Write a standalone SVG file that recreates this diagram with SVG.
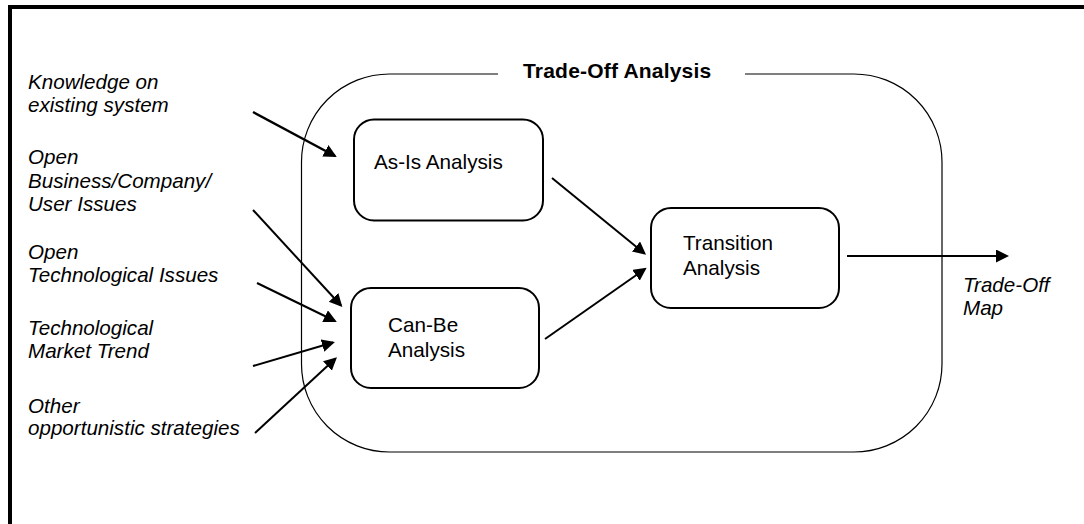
<svg xmlns="http://www.w3.org/2000/svg" width="1084" height="524" viewBox="0 0 1084 524">
  <style>
    .frame { fill: none; stroke: #000; stroke-width: 4; }
    .container { fill: none; stroke: #000; stroke-width: 1.2; }
    .box { fill: #fff; stroke: #000; stroke-width: 2; }
    .label { font-family: "Liberation Sans", Arial, sans-serif; font-size: 20.7px; fill: #000; }
    .input { font-family: "Liberation Sans", Arial, sans-serif; font-size: 20.6px; font-style: italic; fill: #000; }
    .title { font-family: "Liberation Sans", Arial, sans-serif; font-size: 21px; font-weight: bold; letter-spacing: 0.2px; fill: #000; }
    .conn { fill: none; stroke: #000; stroke-width: 2; marker-end: url(#arrow); }
  </style>
  <defs>
    <marker id="arrow" markerUnits="userSpaceOnUse" markerWidth="14" markerHeight="14" refX="11" refY="6.5" orient="auto">
      <path d="M0,0 L13,6.5 L0,13 Z" fill="#000"/>
    </marker>
  </defs>

  <rect width="1084" height="524" fill="#fff"/>

  <!-- page frame: left and top edges only -->
  <path class="frame" d="M10,524 V7 H1084"/>

  <!-- trade-off container with a gap in the top edge for its title -->
  <g id="trade-off-analysis">
    <path class="container" d="M498,74 H389.5 A88,88 0 0 0 301.5,162 V364 A88,88 0 0 0 389.5,452 H854 A88,88 0 0 0 942,364 V162 A88,88 0 0 0 854,74 H745"/>
    <text class="title" x="523" y="78">Trade-Off Analysis</text>
  </g>

  <!-- input labels -->
  <g id="input-knowledge">
    <text class="input" x="28" y="89">Knowledge on</text>
    <text class="input" x="28" y="112">existing system</text>
  </g>
  <g id="input-business">
    <text class="input" x="28" y="164">Open</text>
    <text class="input" x="28" y="188">Business/Company/</text>
    <text class="input" x="28" y="211">User Issues</text>
  </g>
  <g id="input-tech-issues">
    <text class="input" x="28" y="259">Open</text>
    <text class="input" x="28" y="282">Technological Issues</text>
  </g>
  <g id="input-market">
    <text class="input" x="28" y="335">Technological</text>
    <text class="input" x="28" y="358">Market Trend</text>
  </g>
  <g id="input-other">
    <text class="input" x="28" y="413">Other</text>
    <text class="input" x="28" y="435">opportunistic strategies</text>
  </g>

  <!-- process boxes -->
  <g id="as-is">
    <rect class="box" x="354" y="119.5" width="189" height="101" rx="20"/>
    <text class="label" x="374" y="169">As-Is Analysis</text>
  </g>
  <g id="can-be">
    <rect class="box" x="351" y="288" width="188" height="100" rx="20"/>
    <text class="label" x="388" y="332">Can-Be</text>
    <text class="label" x="388" y="357">Analysis</text>
  </g>
  <g id="transition">
    <rect class="box" x="651" y="208" width="188" height="100" rx="20"/>
    <text class="label" x="683" y="250">Transition</text>
    <text class="label" x="683" y="275">Analysis</text>
  </g>

  <!-- output label -->
  <g id="output-map">
    <text class="input" x="963" y="292">Trade-Off</text>
    <text class="input" x="963" y="315">Map</text>
  </g>

  <!-- connectors -->
  <g id="connectors">
    <line class="conn" x1="253" y1="112" x2="335" y2="156" style="stroke-width:2.4"/>
    <line class="conn" x1="253" y1="210" x2="341" y2="305.5"/>
    <line class="conn" x1="257" y1="283" x2="335" y2="321"/>
    <line class="conn" x1="253" y1="366" x2="333" y2="342.5"/>
    <line class="conn" x1="255" y1="433" x2="335.5" y2="358.5"/>
    <line class="conn" x1="552" y1="178" x2="644.5" y2="253.5"/>
    <line class="conn" x1="545" y1="339" x2="645" y2="269"/>
    <line class="conn" x1="847" y1="256" x2="1007" y2="256"/>
  </g>
</svg>
